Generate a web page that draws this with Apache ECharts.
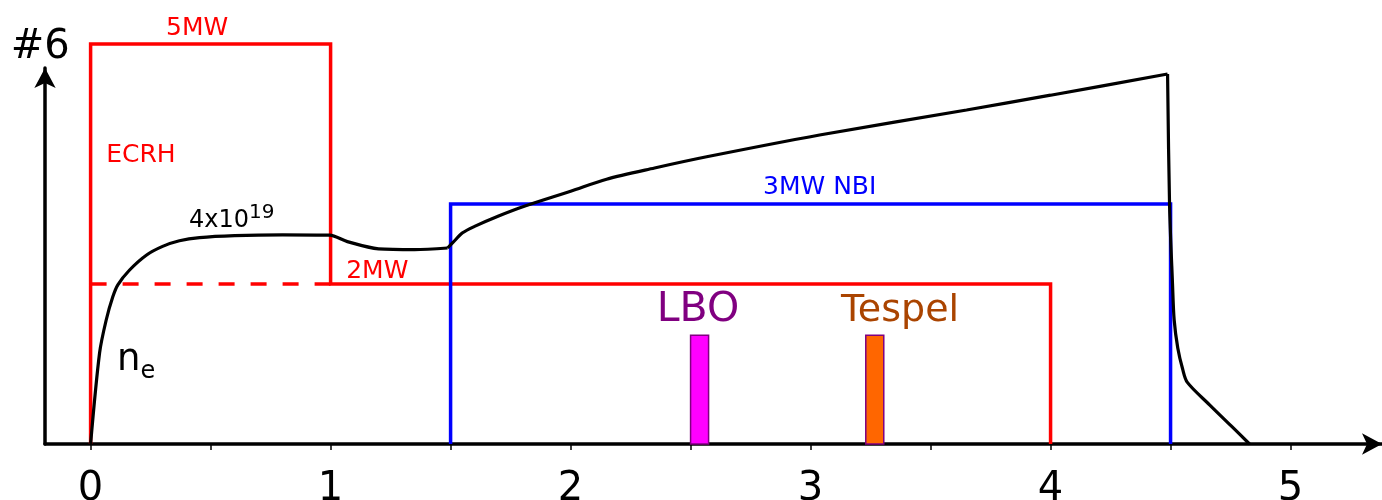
<!DOCTYPE html>
<html><head><meta charset="utf-8">
<script src="https://cdn.jsdelivr.net/npm/echarts@6/dist/echarts.min.js"></script>
<style>html,body{margin:0;padding:0;background:#fff}#c{width:1382px;height:500px}</style>
</head><body><div id="c"></div>
<script>
// ---- data ----
const tickValues = [0, 0.5, 1, 1.5, 2, 2.5, 3, 3.5, 4, 4.5, 5];
const tickLabels = [0, 1, 2, 3, 4, 5];

// density n_e in three pieces (ECRH phase, NBI phase, decay)
const densityAX = [0, 0.0375, 0.065, 0.0925, 0.1135, 0.1625, 0.232, 0.3, 0.37, 0.454, 0.6, 0.8, 0.996,
  1.07, 1.2, 1.35, 1.4875];
const densityAY = [0, 1.14, 1.55, 1.84, 1.99, 2.175, 2.36, 2.47, 2.54, 2.58, 2.605, 2.615, 2.61,
  2.53, 2.44, 2.43, 2.45];
const densityBX = [1.4875, 1.51, 1.55, 1.6, 1.7, 1.81, 2.0, 2.15, 2.35, 2.567, 3.0375, 3.65, 4.0, 4.4875];
const densityBY = [2.45, 2.52, 2.64, 2.72, 2.85, 2.975, 3.16, 3.31, 3.45, 3.59, 3.8625, 4.175, 4.36, 4.625];
const densityCX = [4.4875, 4.496, 4.508, 4.515, 4.53, 4.55, 4.57, 4.6625, 4.758, 4.829];
const densityCY = [4.625, 2.96, 2.01, 1.55, 1.2, 0.94, 0.77, 0.49, 0.21, 0];

const ecrhX = [0, 0, 1, 1, 4, 4];
const ecrhY = [0, 5, 5, 2, 2, 0];
const ecrhDashX = [0, 1];
const ecrhDashY = [2, 2];
const nbiX = [1.5, 1.5, 4.5, 4.5];
const nbiY = [0, 3, 3, 0];

const diagNames = ['LBO', 'Tespel'];
const diagStart = [2.5, 3.23];
const diagEnd = [2.575, 3.305];
const diagHeight = [1.36, 1.36];

const noteText = ['#6', '5MW', 'ECRH', '4x10', '19', '2MW', 'n', 'e', 'LBO', 'Tespel', '3MW NBI'];
const noteX = [-0.208, 0.446, 0.067, 0.4125, 0.662, 1.067, 0.1125, 0.21, 2.533, 3.375, 3.04];
const noteY = [4.95, 5.19, 3.6, 2.79, 2.89, 2.15, 1.035, 0.9, 1.66, 1.66, 3.2];

// ---- styles ----
const FONT = 'DejaVu Sans';
const noteStyle = {
  '#6': {fontSize: 40, color: '#000000', align: 'center'},
  '5MW': {fontSize: 25, color: '#ff0000', align: 'center'},
  'ECRH': {fontSize: 25, color: '#ff0000', align: 'left'},
  '4x10': {fontSize: 24, color: '#000000', align: 'left'},
  '19': {fontSize: 20, color: '#000000', align: 'left'},
  '2MW': {fontSize: 25, color: '#ff0000', align: 'left'},
  'n': {fontSize: 37, color: '#000000', align: 'left'},
  'e': {fontSize: 24, color: '#000000', align: 'left'},
  'LBO': {fontSize: 41, color: '#800080', align: 'center'},
  'Tespel': {fontSize: 38, color: '#aa4400', align: 'center'},
  '3MW NBI': {fontSize: 25, color: '#0000ff', align: 'center'}
};
const diagFill = {'LBO': '#ff00ff', 'Tespel': '#ff6600'};

const zip = (xs, ys) => xs.map((x, i) => [x, ys[i]]);
const densSeries = (xs, ys) => ({type: 'line', data: zip(xs, ys), symbol: 'none', clip: false, z: 4,
  smooth: 0.3, lineStyle: {color: '#000', width: 3.2}});

const chart = echarts.init(document.getElementById('c'), null, {renderer: 'canvas'});
chart.setOption({
  animation: false,
  backgroundColor: '#fff',
  textStyle: {fontFamily: FONT},
  grid: {left: 45, right: 0, top: 68, bottom: 56, containLabel: false, outerBoundsMode: 'none'},
  xAxis: {
    type: 'value', min: -0.19, max: 5.381,
    axisLine: {show: true, onZero: false, symbol: ['none', 'arrow'], symbolSize: [16, 20],
      lineStyle: {color: '#000', width: 3.5}},
    axisTick: {show: true, customValues: tickValues, length: 6, inside: false, lineStyle: {color: '#000', width: 1.5}},
    axisLabel: {show: true, customValues: tickLabels, fontSize: 40, color: '#000', margin: 26, fontFamily: FONT},
    splitLine: {show: false}
  },
  yAxis: {
    type: 'value', min: 0, max: 4.7,
    axisLine: {show: true, onZero: false, symbol: ['none', 'arrow'], symbolSize: [16, 20],
      lineStyle: {color: '#000', width: 3.5}},
    axisTick: {show: false}, axisLabel: {show: false}, splitLine: {show: false}
  },
  series: [
    {type: 'line', data: zip(ecrhX, ecrhY), symbol: 'none', clip: false, z: 2,
      lineStyle: {color: '#ff0000', width: 3.5, join: 'miter'}},
    {type: 'line', data: zip(ecrhDashX, ecrhDashY), symbol: 'none', clip: false, z: 2,
      lineStyle: {color: '#ff0000', width: 3.5, type: [16, 16]}},
    {type: 'line', data: zip(nbiX, nbiY), symbol: 'none', clip: false, z: 2,
      lineStyle: {color: '#0000ff', width: 3.5, join: 'miter'}},
    {type: 'custom', clip: false, z: 3,
      data: diagNames.map((n, i) => ({name: n, value: [diagStart[i], diagEnd[i], diagHeight[i]]})),
      encode: {x: [0, 1], y: 2},
      renderItem: function (params, api) {
        const a = api.coord([api.value(0), 0]);
        const b = api.coord([api.value(1), api.value(2)]);
        const name = diagNames[params.dataIndex];
        return {type: 'rect', shape: {x: a[0], y: b[1], width: b[0] - a[0], height: a[1] - b[1]},
          style: {fill: diagFill[name], stroke: '#800080', lineWidth: 1.5}};
      }},
    densSeries(densityAX, densityAY),
    densSeries(densityBX, densityBY),
    densSeries(densityCX, densityCY),
    {type: 'scatter', clip: false, silent: true, z: 5, symbol: 'rect', symbolSize: 1,
      itemStyle: {color: 'rgba(255,255,255,0)'},
      data: noteText.map((t, i) => ({
        name: t, value: [noteX[i], noteY[i]],
        label: {show: true, position: [0, 0], formatter: t, fontFamily: FONT, opacity: 1,
          textBorderWidth: 0, textShadowBlur: 0,
          verticalAlign: 'middle', fontSize: noteStyle[t].fontSize, color: noteStyle[t].color, align: noteStyle[t].align}
      }))}
  ]
});
</script>
</body></html>
